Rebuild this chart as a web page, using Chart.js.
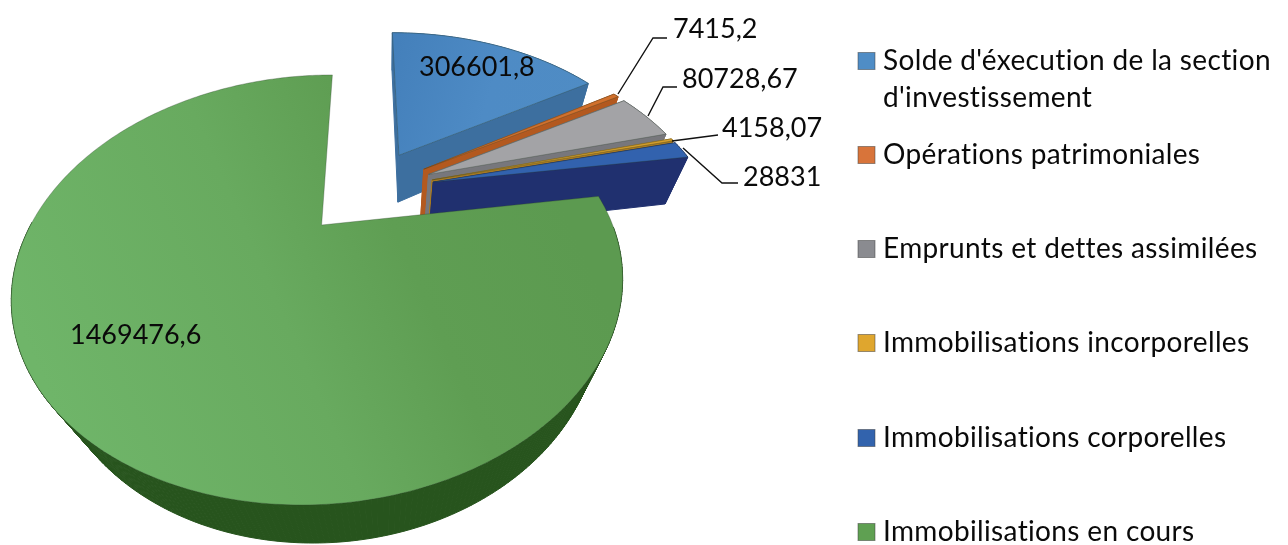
<!DOCTYPE html>
<html><head><meta charset="utf-8">
<style>html,body{margin:0;padding:0;background:#fff}canvas{display:block}</style>
<script src="https://cdn.jsdelivr.net/npm/chart.js@4"></script>
</head><body><canvas id="c" width="1288" height="545"></canvas>
<script>
const categories = ["Solde d'éxecution de la section d'investissement","Opérations patrimoniales","Emprunts et dettes assimilées","Immobilisations incorporelles","Immobilisations corporelles","Immobilisations en cours"];
const values = [306601.8,7415.2,80728.67,4158.07,28831,1469476.6];
const legendLines = [["Solde d'éxecution de la section","d'investissement"],["Opérations patrimoniales"],["Emprunts et dettes assimilées"],["Immobilisations incorporelles"],["Immobilisations corporelles"],["Immobilisations en cours"]];
const topColors = ['#4c88c2','#d2702c','#a3a3a6','#d9a02c','#3262ae','#66a85c'];
const wallColors = ['#3d6f9f','#b3591f','#77777c','#a87a20','#20306f','#27541d'];
const legendColors = ['#4f8dc6','#d8743a','#8a8b90','#dfa62e','#3263ad','#5fa052'];
const explodeParts = [1,1,1,1,1,1];

// camera model of the tilted, exploded pie
const cam = {xc:368, h0:-422, a:647, r:291, k:0.302, e:0.245, vRef:0.186, nx:385, ny:780};
const W = v => 1 - cam.k*(v-cam.vRef);
const project = (u,v) => { const w=W(v); return {x:cam.xc+cam.r*u/w, y:cam.h0+cam.a/w, w}; };
const drop = p => { const h=0.091+(1.12-p.w)*0.05, f=h/(p.w+h); return {x:p.x+f*(cam.nx-p.x), y:p.y+f*(cam.ny-p.y)}; };

function outline(el){
  const mid=(el.startAngle+el.endAngle)/2, off=el.options.offset*cam.e;
  const ou=Math.cos(mid)*off, ov=Math.sin(mid)*off, pts=[project(ou,ov)];
  const n=Math.max(2,Math.ceil((el.endAngle-el.startAngle)/0.015));
  for(let i=0;i<=n;i++){const a=el.startAngle+(el.endAngle-el.startAngle)*i/n;pts.push(project(ou+Math.cos(a),ov+Math.sin(a)));}
  return pts;
}
function poly(ctx,pts){ctx.beginPath();pts.forEach((p,i)=>i?ctx.lineTo(p.x,p.y):ctx.moveTo(p.x,p.y));ctx.closePath();}

function topFill(ctx,i){
  if(i===5){const g=ctx.createLinearGradient(60,420,560,200);
    g.addColorStop(0,'#6fb569');g.addColorStop(0.45,'#68aa5f');g.addColorStop(0.7,'#5f9e53');g.addColorStop(1,'#5c9a50');return g;}
  if(i===0){const g=ctx.createLinearGradient(392,60,590,120);
    g.addColorStop(0,'#4480bb');g.addColorStop(0.5,'#4e8bc5');g.addColorStop(1,'#4f8cc4');return g;}
  return topColors[i];
}
const pie3d={id:'pie3d',beforeDatasetDraw(chart,args){
  const ctx=chart.ctx, arcs=chart.getDatasetMeta(args.index).data;
  arcs.forEach((el,i)=>{
    const pts=outline(el), low=pts.map(drop), large=(el.endAngle-el.startAngle)>Math.PI;
    ctx.save();
    ctx.fillStyle=wallColors[i];ctx.strokeStyle=wallColors[i];ctx.lineWidth=1;
    for(let j=0;j<pts.length;j++){const m=(j+1)%pts.length;
      if(large&&(j===0||m===0||pts[j].w>1))continue;
      poly(ctx,[pts[j],pts[m],low[m],low[j]]);ctx.fill();ctx.stroke();}
    poly(ctx,pts);ctx.fillStyle=topFill(ctx,i);ctx.fill();
    ctx.strokeStyle='rgba(40,60,40,0.3)';ctx.lineWidth=1;ctx.stroke();
    ctx.restore();
  });
  return false;
}};

// data labels and leader lines
const labelFont='27px Lato, Carlito, sans-serif';
const legendFont='28px Lato, Carlito, sans-serif';
const labelPos=[[419,67],[673,29],[682,79],[722,128],[743,177],[70,335]];
const leaders=[null,[[618,94],[653,38],[667,38]],[[648,116],[663,87],[677,87]],[[672,141],[718,135]],[[683,148],[722,183],[738,183]],null];
const legendX=858, legendTextX=883, legendY=[61,155,249,343,438,532], legendBox=17, legendLine=37;
const annot={id:'annot',afterDraw(chart){
  const ctx=chart.ctx;ctx.save();
  ctx.strokeStyle='#111';ctx.lineWidth=1.4;
  leaders.forEach(l=>{if(!l)return;ctx.beginPath();l.forEach((p,i)=>i?ctx.lineTo(p[0],p[1]):ctx.moveTo(p[0],p[1]));ctx.stroke();});
  ctx.fillStyle='#0a0a0a';ctx.font=labelFont;ctx.textBaseline='middle';ctx.textAlign='left';
  values.forEach((v,i)=>ctx.fillText(String(v).replace('.',','),labelPos[i][0],labelPos[i][1]));
  ctx.font=legendFont;ctx.letterSpacing='0.35px';
  legendLines.forEach((lines,i)=>{
    const y=legendY[i];
    ctx.fillStyle=legendColors[i];ctx.fillRect(legendX,y-legendBox/2,legendBox,legendBox);
    ctx.strokeStyle='rgba(60,60,60,0.5)';ctx.lineWidth=1;ctx.strokeRect(legendX,y-legendBox/2,legendBox,legendBox);
    ctx.fillStyle='#0a0a0a';
    lines.forEach((t,j)=>ctx.fillText(t,legendTextX,y+j*legendLine));
  });
  ctx.restore();
}};

new Chart(document.getElementById('c'),{
  type:'pie',
  data:{labels:categories,datasets:[{data:values,offset:explodeParts,backgroundColor:topColors,borderWidth:0}]},
  options:{responsive:false,animation:false,events:[],rotation:0,
    plugins:{legend:{display:false},tooltip:{enabled:false}}},
  plugins:[pie3d,annot]
});
</script></body></html>
